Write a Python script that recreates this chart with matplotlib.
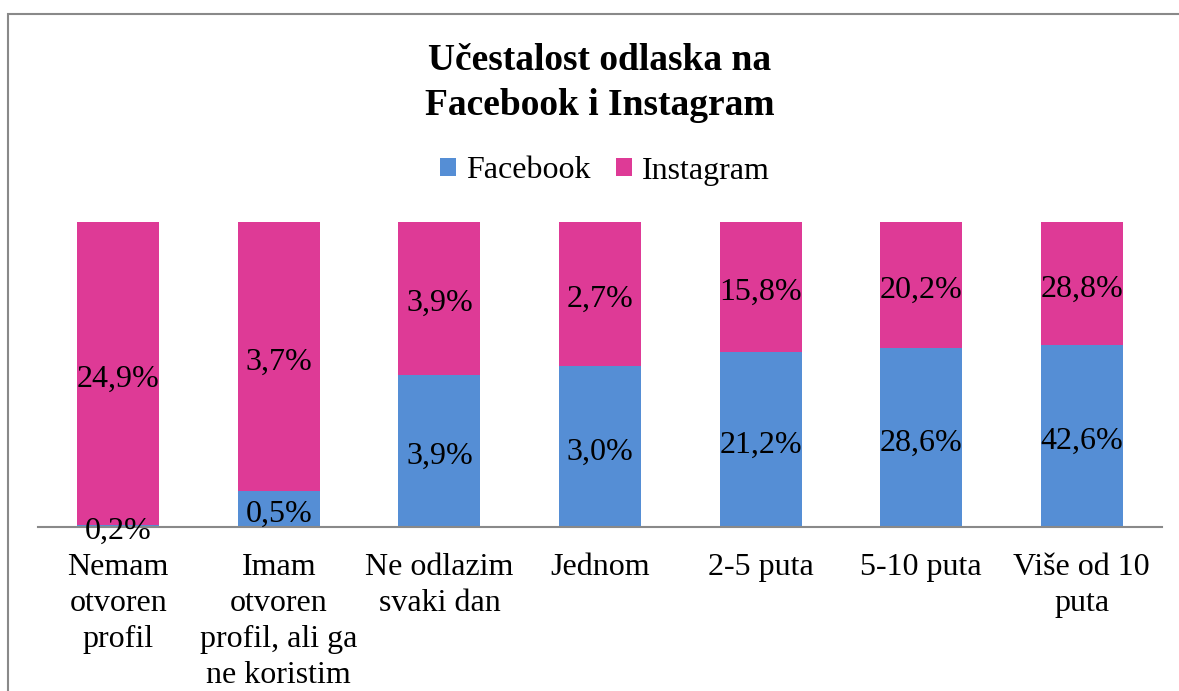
import matplotlib
matplotlib.use("Agg")
import matplotlib.pyplot as plt
import numpy as np
from matplotlib.patches import Rectangle

categories = ["Nemam\notvoren\nprofil", "Imam\notvoren\nprofil, ali ga\nne koristim",
              "Ne odlazim\nsvaki dan", "Jednom", "2-5 puta", "5-10 puta", "Više od 10\nputa"]
facebook = [0.2, 0.5, 3.9, 3.0, 21.2, 28.6, 42.6]
instagram = [24.9, 3.7, 3.9, 2.7, 15.8, 20.2, 28.8]

fb_color = "#558ED5"
ig_color = "#DE3A96"

plt.rcParams['font.family'] = ['Liberation Serif', 'DejaVu Serif']

W, H = 1179, 691
fig = plt.figure(figsize=(W/100, H/100), dpi=100)

# outer chart border
fig.patches.append(Rectangle((8/W, -0.1), 1.2, (691-14)/H + 0.1, transform=fig.transFigure,
                             fill=False, edgecolor="#898989", linewidth=1.5))

ax = fig.add_axes([38/W, (691-527)/H, (1162-38)/W, 305/H])

fb = np.array(facebook)
ig = np.array(instagram)
tot = fb + ig
fb_frac = fb / tot
ig_frac = ig / tot
x = np.arange(len(categories))
w = 0.51
ax.bar(x, fb_frac, w, color=fb_color, label="Facebook")
ax.bar(x, ig_frac, w, bottom=fb_frac, color=ig_color, label="Instagram")

FS = 23
for i in range(len(x)):
    ax.annotate(f"{facebook[i]:.1f}%".replace(".", ","), (x[i], fb_frac[i]/2),
                xytext=(0, -4), textcoords="offset points", ha="center", va="center",
                fontsize=FS, color="black")
    ax.annotate(f"{instagram[i]:.1f}%".replace(".", ","), (x[i], fb_frac[i] + ig_frac[i]/2),
                xytext=(0, -4), textcoords="offset points", ha="center", va="center",
                fontsize=FS, color="black")

ax.set_xlim(-0.5, len(x) - 0.5)
ax.set_ylim(0, 1)
for s in ["top", "right", "left"]:
    ax.spines[s].set_visible(False)
ax.spines["bottom"].set_color("#898989")
ax.spines["bottom"].set_linewidth(1.5)
ax.set_yticks([])
ax.set_xticks(x)
ax.set_xticklabels(categories, fontsize=FS, linespacing=1.31, va="top")
ax.tick_params(axis="x", length=0, pad=19)

fig.text(600/W, 1 - 83/H, "Učestalost odlaska na\nFacebook i Instagram", ha="center", va="center",
         fontsize=27, fontweight="bold", linespacing=1.35)

leg = fig.legend(loc="center", bbox_to_anchor=(605/W, 1 - 171/H), ncol=2, frameon=False,
                 fontsize=FS, handlelength=0.5, handleheight=0.5, handletextpad=0.3,
                 columnspacing=0.8)

fig.savefig("out.png", dpi=100)
